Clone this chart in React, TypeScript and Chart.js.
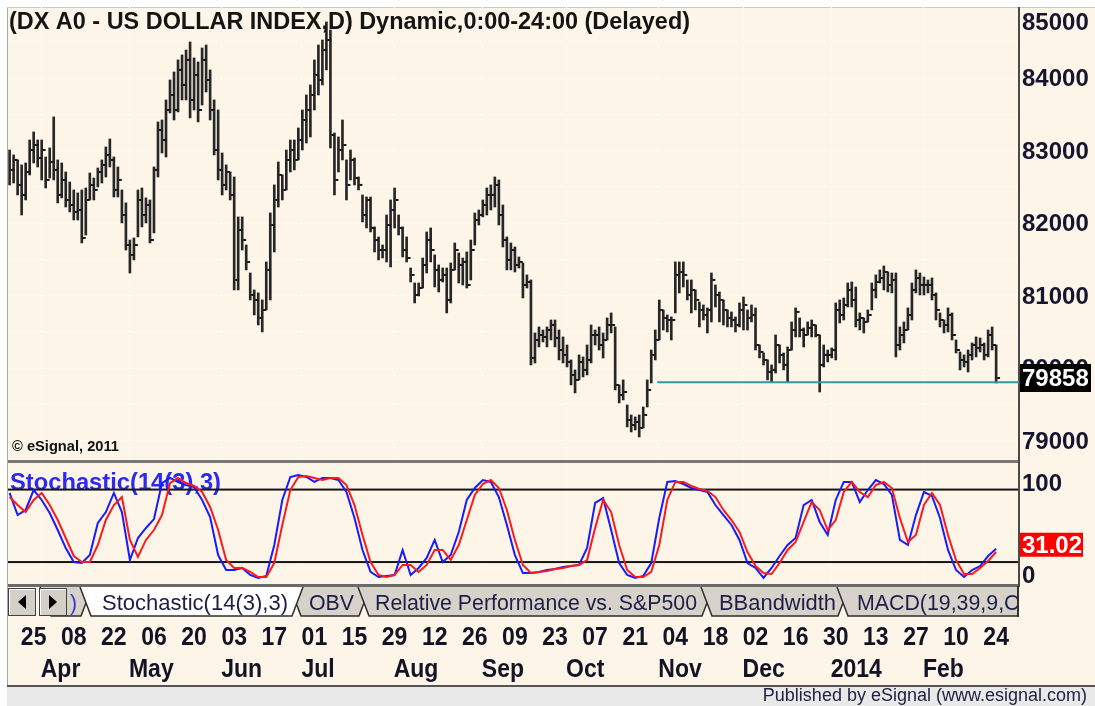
import React, { useEffect, useRef } from "react";
import { Chart, registerables } from "chart.js";

Chart.register(...registerables);

// ---------------- data ----------------
const highs = [
  83002, 82934, 82865, 82796, 82823, 83140, 83251, 83140, 83140, 82906,
  83030, 83458, 82865, 82823, 82699, 82561, 82451, 82410, 82451, 82478,
  82685, 82616, 82754, 82865, 83044, 83154, 82906, 82768, 82451, 82272,
  81761, 81789, 82451, 82478, 82341, 82313, 82768, 83389, 83416, 83692,
  83968, 84078, 84244, 84312, 84381, 84492, 84271, 84216, 84409, 84450,
  84106, 83692, 83554, 82961, 82796, 82699, 82630, 82079, 82079, 81692,
  81306, 81072, 81031, 80934, 81458, 82134, 82520, 82837, 82658, 83002,
  83140, 83140, 83306, 83554, 83761, 83899, 84244, 84450, 84519, 84768,
  84657, 83237, 83182, 83416, 82865, 83002, 82892, 82630, 82382, 82354,
  82354, 81941, 81803, 81692, 82106, 82313, 82478, 82106, 81941, 81803,
  81375, 81168, 81168, 81513, 81872, 81927, 81555, 81417, 81375, 81375,
  81444, 81720, 81582, 81513, 81596, 81761, 82134, 82175, 82313, 82478,
  82520, 82630, 82589, 82244, 81803, 81720, 81665, 81527, 81444, 81279,
  81210, 80479, 80562, 80520, 80562, 80658, 80658, 80520, 80424, 80313,
  80107, 79969, 80176, 80148, 80313, 80589, 80520, 80562, 80479, 80686,
  80755, 80562, 79762, 79831, 79486, 79348, 79321, 79348, 79458, 79831,
  80244, 80520, 80934, 80796, 80727, 80700, 81458, 81458, 81458, 81210,
  81210, 81072, 80906, 80865, 80824, 81306, 81141, 81044, 80934, 80796,
  80769, 80700, 80893, 80975, 80796, 80865, 80824, 80313, 80203, 80107,
  80038, 80451, 80313, 80203, 80286, 80631, 80824, 80686, 80548, 80631,
  80658, 80589, 80451, 80313, 80244, 80272, 80893, 80934, 80962, 81168,
  81182, 81113, 80755, 80686, 80796, 81168, 81279, 81348, 81403, 81320,
  81306, 81306, 80562, 80631, 80824, 81168, 81348, 81306, 81251, 81210,
  81237, 81031, 80755, 80658, 80824, 80755, 80382, 80217, 80176, 80244,
  80341, 80424, 80410, 80341, 80520, 80562, 80313,
];

const lows = [
  82520, 82547, 82382, 82106, 82313, 82658, 82823, 82768, 82589, 82478,
  82616, 82589, 82272, 82341, 82216, 82148, 82037, 82037, 81720, 81830,
  82313, 82313, 82492, 82547, 82630, 82768, 82354, 82354, 81996, 81623,
  81306, 81486, 81803, 81941, 81996, 81720, 81858, 82630, 82961, 82906,
  83513, 83416, 83527, 83692, 83692, 83444, 83554, 83389, 83623, 83802,
  83416, 82934, 82589, 82382, 82451, 82313, 81072, 81072, 81623, 81348,
  80934, 80727, 80589, 80493, 80796, 80934, 81596, 82216, 82313, 82451,
  82699, 82727, 82865, 83002, 83099, 83182, 83554, 83761, 83899, 84106,
  83030, 82382, 82699, 82865, 82313, 82589, 82520, 82451, 82010, 81927,
  81872, 81596, 81486, 81513, 81458, 81389, 81927, 81830, 81527, 81458,
  81182, 80893, 80989, 81099, 81306, 81458, 81113, 81044, 81182, 80755,
  80893, 81348, 81168, 81141, 81099, 81210, 81692, 81968, 82079, 82106,
  82175, 82216, 81968, 81665, 81348, 81348, 81320, 81375, 80962, 81099,
  80038, 80065, 80286, 80355, 80286, 80382, 80286, 80107, 80065, 80010,
  79762, 79652, 79831, 79872, 79900, 80065, 80313, 80244, 80134, 80382,
  80479, 79693, 79514, 79555, 79183, 79114, 79141, 79045, 79169, 79458,
  79789, 80107, 80382, 80520, 80493, 80382, 80755, 81031, 81113, 80934,
  80755, 80796, 80562, 80658, 80479, 80631, 80837, 80631, 80589, 80562,
  80562, 80493, 80562, 80520, 80520, 80631, 80244, 80134, 80038, 79831,
  79803, 79927, 80065, 79969, 79803, 80244, 80424, 80424, 80286, 80451,
  80424, 80424, 79665, 80010, 80079, 80134, 80107, 80617, 80658, 80837,
  80837, 80562, 80520, 80479, 80631, 80796, 80962, 81168, 81072, 81044,
  81031, 80148, 80244, 80341, 80520, 80658, 81031, 81003, 81003, 81031,
  80934, 80658, 80562, 80479, 80493, 80382, 80203, 79969, 80010, 79941,
  80107, 80148, 80217, 80107, 80148, 80244, 79789,
];

const closes = [
  82727, 82865, 82520, 82382, 82699, 83002, 83071, 82892, 83002, 82589,
  82837, 82727, 82382, 82589, 82313, 82244, 82148, 82175, 81789, 82313,
  82520, 82451, 82699, 82796, 82934, 82865, 82451, 82589, 82106, 81692,
  81555, 81692, 82313, 82106, 82244, 81761, 82727, 83278, 83140, 83554,
  83761, 83554, 84106, 83899, 84244, 83692, 84037, 83554, 84244, 83968,
  83554, 83002, 82727, 82520, 82699, 82382, 81210, 81899, 81761, 81458,
  81003, 80934, 80686, 80796, 81348, 81968, 82313, 82658, 82451, 82865,
  83002, 82865, 83140, 83416, 83554, 83761, 84037, 83968, 84381, 84519,
  83209, 82589, 83002, 83071, 82520, 82865, 82616, 82520, 82106, 82313,
  81927, 81761, 81623, 81623, 81968, 82175, 82313, 81927, 81623, 81513,
  81279, 81003, 81099, 81417, 81761, 81623, 81348, 81210, 81279, 80934,
  81348, 81623, 81417, 81458, 81141, 81623, 82037, 82106, 82244, 82382,
  82382, 82520, 82106, 81761, 81486, 81623, 81417, 81458, 81141, 81182,
  80134, 80382, 80451, 80424, 80520, 80589, 80410, 80244, 80176, 80079,
  79900, 79831, 80079, 79969, 80107, 80451, 80451, 80313, 80382, 80589,
  80589, 79762, 79624, 79665, 79279, 79210, 79252, 79169, 79348, 79693,
  80176, 80382, 80796, 80686, 80658, 80658, 81279, 81320, 81279, 81003,
  81072, 80934, 80796, 80727, 80796, 81210, 81003, 80934, 80796, 80686,
  80658, 80589, 80796, 80865, 80686, 80727, 80313, 80217, 80107, 79941,
  79969, 80313, 80176, 80038, 80244, 80520, 80769, 80520, 80451, 80548,
  80589, 80451, 80038, 80176, 80176, 80244, 80796, 80727, 80865, 81072,
  80934, 80658, 80686, 80631, 80727, 81072, 81182, 81237, 81320, 81141,
  81210, 80313, 80451, 80520, 80727, 81072, 81237, 81141, 81141, 81141,
  81003, 80796, 80658, 80589, 80727, 80451, 80244, 80107, 80079, 80176,
  80313, 80272, 80313, 80176, 80451, 80313, 79858,
];

// Stochastic(14(3),3): one value every STOCH_STEP bars
const STOCH_STEP = 2;
const stochK = [
  77.2, 58.9, 63.1, 79.6, 71.4, 60.6, 46.5, 31.6, 20.0, 19.2,
  25.8, 52.3, 61.4, 77.2, 61.4, 21.7, 39.9, 48.2, 55.6, 85.4,
  89.6, 86.3, 83.8, 82.1, 71.4, 57.3, 25.8, 13.4, 13.4, 15.1,
  9.3, 6.8, 8.5, 34.1, 71.4, 90.4, 92.1, 90.4, 86.3, 89.6,
  89.6, 87.9, 78.0, 56.5, 30.0, 11.8, 7.6, 8.5, 9.3, 30.0,
  9.3, 15.1, 23.4, 38.3, 20.0, 25.8, 44.9, 71.4, 81.3, 87.9,
  86.3, 73.8, 50.7, 25.8, 10.9, 10.9, 11.8, 13.4, 14.2, 15.9,
  16.7, 17.6, 31.6, 68.9, 73.0, 46.5, 19.2, 9.3, 6.8, 8.5,
  19.2, 56.5, 86.3, 87.1, 84.6, 81.3, 79.6, 78.0, 67.2, 58.9,
  50.7, 38.3, 19.2, 15.1, 6.8, 15.1, 25.0, 34.1, 39.9, 67.2,
  71.4, 53.2, 42.4, 71.4, 86.3, 86.3, 69.7, 79.6, 87.9, 84.6,
  75.5, 38.3, 34.1, 58.9, 78.0, 74.7, 56.5, 30.0, 13.4, 7.6,
  13.4, 16.7, 25.0, 31.02,
];
const stochD = [
  73.8, 67.2, 61.4, 71.4, 77.2, 67.2, 54.8, 39.9, 25.0, 20.0,
  20.0, 34.1, 54.8, 67.2, 73.8, 38.3, 24.2, 38.3, 46.5, 58.9,
  85.4, 89.6, 85.4, 83.0, 78.0, 65.6, 46.5, 21.7, 15.1, 15.1,
  11.8, 7.6, 7.6, 19.2, 50.7, 79.6, 90.4, 91.2, 89.6, 87.9,
  89.6, 89.6, 83.8, 67.2, 42.4, 20.0, 9.3, 7.6, 9.3, 17.6,
  17.6, 11.8, 17.6, 30.0, 30.0, 21.7, 34.1, 54.8, 75.5, 84.6,
  87.9, 81.3, 63.1, 38.3, 17.6, 10.9, 11.8, 12.6, 14.2, 15.1,
  16.7, 17.6, 21.7, 48.2, 71.4, 61.4, 34.1, 13.4, 7.6, 7.6,
  11.8, 34.1, 71.4, 86.3, 86.3, 83.0, 80.5, 78.8, 73.8, 63.1,
  54.8, 44.9, 28.3, 16.7, 10.9, 10.1, 19.2, 30.0, 36.6, 53.2,
  69.7, 63.1, 46.5, 54.8, 78.0, 86.3, 78.0, 73.8, 83.8, 86.3,
  81.3, 56.5, 36.6, 42.4, 67.2, 77.2, 67.2, 42.4, 21.7, 10.1,
  10.1, 15.1, 20.9, 28.3,
];

const dayTickIdx = [6, 16, 26, 36, 46, 56, 66, 76, 86, 96, 106, 116, 126, 136, 146, 156, 166, 176, 186, 196, 206, 216, 226, 236, 246];
const dayTickLabels = ["25", "08", "22", "06", "20", "03", "17", "01", "15", "29", "12", "26", "09", "23", "07", "21", "04", "18", "02", "16", "30", "13", "27", "10", "24"];
const monthStartIdx = [11, 33, 56, 76, 99, 121, 142, 165, 186, 208, 231];
const monthLabels = ["Apr", "May", "Jun", "Jul", "Aug", "Sep", "Oct", "Nov", "Dec", "2014", "Feb"];
const priceTicks = [85000, 84000, 83000, 82000, 81000, 80000, 79000];
const priceGridLevels = [79000, 79500, 80000, 80500, 81000, 81500, 82000, 82500, 83000, 83500, 84000, 84500];
const stochLevels = [80, 20];
const stochTicks = [100, 0];
const supportLevel = 79800;
const supportFromIdx = 161.5;

const titleText = "(DX A0 - US DOLLAR INDEX,D) Dynamic,0:00-24:00 (Delayed)";
const stochTitle = "Stochastic(14(3),3)";
const copyrightText = "\u00A9 eSignal, 2011";
const footerText = "Published by eSignal (www.esignal.com)";
const tabLabels = [")", "Stochastic(14(3),3)", "OBV", "Relative Performance vs. S&P500", "BBandwidth", "MACD(19,39,9,C"];

// ---------------- layout / style ----------------
const W = 1095;
const H = 706;
const PLOT_L = 8;
const PLOT_R = 1019;
const PRICE_T = 7;
const PRICE_B = 460;
const ST_TOP = 463;
const ST_BOT = 585;
const B_TOP = 462;
const B_H = 124;
const X_MIN = -0.4;
const X_MAX = 251.7;
const P_MIN = 78727;
const P_MAX = 84974;
const S_MIN = 1;
const S_MAX = 102;
const FOOT_LINE = 685;
const TAB_TOP = 587;
const TAB_BOT = 616;
const TAB_SLANT = 11;
const tabEdges = [[40, 92], [80, 303], [290, 370], [358, 713], [701, 849], [837, 1040]];
const tabTextX = [70, 102, 309, 375, 719, 857];
const tabTextW = [0, 186, 45, 322, 117, 0];
const ACTIVE_TAB = 1;

const CREAM = "#FCF5E8";
const AXIS_TXT = "#151530";
const SANS = '"Liberation Sans", Arial, Helvetica, sans-serif';

function drawText(
  ctx: CanvasRenderingContext2D,
  s: string,
  x: number,
  y: number,
  o: { size: number; bold?: boolean; color: string; align?: string; sx?: number; width?: number }
) {
  ctx.save();
  ctx.font = `${o.bold ? "bold " : ""}${o.size}px ${SANS}`;
  ctx.fillStyle = o.color;
  ctx.textBaseline = "alphabetic";
  ctx.textAlign = "left";
  const m = ctx.measureText(s).width;
  let sx = o.sx ?? 1;
  if (o.width) sx = o.width / m;
  const w = m * sx;
  let x0 = x;
  if (o.align === "center") x0 = x - w / 2;
  else if (o.align === "right") x0 = x - w;
  ctx.translate(x0, y);
  ctx.scale(sx, 1);
  ctx.fillText(s, 0, 0);
  ctx.restore();
}

function hLine(ctx: CanvasRenderingContext2D, x1: number, x2: number, y: number) {
  ctx.beginPath();
  ctx.moveTo(x1, y);
  ctx.lineTo(x2, y);
  ctx.stroke();
}
function vLine(ctx: CanvasRenderingContext2D, x: number, y1: number, y2: number) {
  ctx.beginPath();
  ctx.moveTo(x, y1);
  ctx.lineTo(x, y2);
  ctx.stroke();
}

const pricePanePlugin = {
  id: "pricePane",
  beforeDraw(chart: any) {
    const { ctx, chartArea: ca, scales } = chart;
    const xs = scales.x;
    const ys = scales.y;
    ctx.save();
    ctx.fillStyle = "#ffffff";
    ctx.fillRect(0, 0, W, H);
    ctx.fillStyle = CREAM;
    ctx.fillRect(7, 7, W - 7, FOOT_LINE - 7);
    // footer band
    ctx.fillStyle = "#e9e9e9";
    ctx.fillRect(7, FOOT_LINE + 2, W - 7, H - FOOT_LINE - 2);
    ctx.fillStyle = "#555555";
    ctx.fillRect(7, FOOT_LINE, W - 7, 2);
    // frame
    ctx.fillStyle = "#a8a8a8";
    ctx.fillRect(7, 7, 1, FOOT_LINE - 7);
    ctx.fillStyle = "#c8c8c8";
    ctx.fillRect(7, 7, W - 7, 1);

    // dotted grid
    ctx.strokeStyle = "#ffffff";
    ctx.lineWidth = 1;
    ctx.setLineDash([1, 3]);
    priceGridLevels.forEach((v) => {
      const y = Math.round(ys.getPixelForValue(v)) + 0.5;
      hLine(ctx, ca.left, ca.right, y);
    });
    monthStartIdx.forEach((m) => {
      const x = Math.round(xs.getPixelForValue(m) - 13) + 0.5;
      vLine(ctx, x, ca.top, ca.bottom);
      vLine(ctx, x, ST_TOP, ST_BOT);
    });
    ctx.setLineDash([]);

    // pane separators and axis lines
    ctx.fillStyle = "#787878";
    ctx.fillRect(PLOT_L, PRICE_B, PLOT_R - PLOT_L, 3);
    ctx.fillStyle = "#6a6a6a";
    ctx.fillRect(PLOT_L, 584, PLOT_R - PLOT_L, 3);
    ctx.fillStyle = "#4a4a4a";
    ctx.fillRect(PLOT_R - 1, PRICE_T, 2, PRICE_B - PRICE_T + 3);
    ctx.fillRect(PLOT_R - 1, ST_TOP, 2, ST_BOT - ST_TOP + 2);

    // tabs
    ctx.save();
    ctx.beginPath();
    ctx.rect(PLOT_L, TAB_TOP - 1, PLOT_R - 1 - PLOT_L, TAB_BOT - TAB_TOP + 3);
    ctx.clip();
    const order = [0, 2, 3, 4, 5, ACTIVE_TAB];
    order.forEach((k) => {
      const [l, r] = tabEdges[k];
      const active = k === ACTIVE_TAB;
      ctx.beginPath();
      ctx.moveTo(l, TAB_TOP);
      ctx.lineTo(l + TAB_SLANT, TAB_BOT);
      ctx.lineTo(r - TAB_SLANT, TAB_BOT);
      ctx.lineTo(r, TAB_TOP);
      ctx.closePath();
      ctx.fillStyle = active ? "#ffffff" : "#d6d2ca";
      ctx.fill();
      ctx.beginPath();
      ctx.moveTo(l, TAB_TOP);
      ctx.lineTo(l + TAB_SLANT, TAB_BOT);
      ctx.lineTo(r - TAB_SLANT, TAB_BOT);
      ctx.lineTo(r, TAB_TOP);
      ctx.strokeStyle = "#2e2e2e";
      ctx.lineWidth = 1.5;
      ctx.stroke();
      ctx.save();
      ctx.beginPath();
      ctx.rect(l, TAB_TOP, Math.min(r, PLOT_R - 2) - l, TAB_BOT - TAB_TOP);
      ctx.clip();
      drawText(ctx, tabLabels[k], tabTextX[k], 610, {
        size: 22,
        color: k === 0 ? "#3a3ac8" : "#1d1d48",
        width: tabTextW[k] || undefined,
        sx: 0.97,
      });
      ctx.restore();
    });
    ctx.restore();
    ctx.fillStyle = "#333333";
    ctx.fillRect(PLOT_R - 2, TAB_TOP - 1, 2, TAB_BOT - TAB_TOP + 2);

    // scroll buttons
    const btn = (bx: number, dir: number) => {
      ctx.fillStyle = "#d4d0c8";
      ctx.fillRect(bx, 588, 28, 28);
      ctx.strokeStyle = "#ffffff";
      ctx.lineWidth = 1;
      hLine(ctx, bx + 1, bx + 27, 589.5);
      vLine(ctx, bx + 1.5, 589, 615);
      ctx.strokeStyle = "#404040";
      ctx.strokeRect(bx + 0.5, 588.5, 27, 27);
      ctx.fillStyle = "#000000";
      const cx = bx + 14;
      ctx.beginPath();
      ctx.moveTo(cx + dir * -4, 602);
      ctx.lineTo(cx + dir * 4, 595);
      ctx.lineTo(cx + dir * 4, 609);
      ctx.closePath();
      ctx.fill();
    };
    btn(8, 1);
    btn(39, -1);

    // date axis
    dayTickIdx.forEach((idx, j) => {
      drawText(ctx, dayTickLabels[j], xs.getPixelForValue(idx), 645, {
        size: 25,
        bold: true,
        color: "#131326",
        align: "center",
        sx: 0.92,
      });
    });
    monthStartIdx.forEach((idx, j) => {
      drawText(ctx, monthLabels[j], xs.getPixelForValue(idx) - 13, 677, {
        size: 25,
        bold: true,
        color: "#131326",
        sx: 0.92,
      });
    });
    drawText(ctx, footerText, 1087, 701, { size: 18, color: "#222244", align: "right" });
    ctx.restore();
  },
  afterDatasetsDraw(chart: any) {
    const { ctx } = chart;
    drawText(ctx, titleText, 9, 29, { size: 24, bold: true, color: "#141414", width: 681 });
    drawText(ctx, copyrightText, 12, 451, { size: 15, bold: true, color: "#111111", width: 107 });
  },
  afterDraw(chart: any) {
    const { ctx, scales } = chart;
    const ys = scales.y;
    priceTicks.forEach((v) => {
      const y = ys.getPixelForValue(v);
      const base = Math.min(Math.max(y + 8.5, 30), 457);
      drawText(ctx, String(v), 1022, base, { size: 24, bold: true, color: AXIS_TXT });
    });
    const last = closes[closes.length - 1];
    const ly = ys.getPixelForValue(last);
    ctx.fillStyle = "#000000";
    ctx.fillRect(1020, ly - 14, 71, 28);
    drawText(ctx, String(last), 1022, ly + 8.5, { size: 24, bold: true, color: "#ffffff" });
  },
};

const stochPanePlugin = {
  id: "stochPane",
  beforeDatasetsDraw(chart: any) {
    const { ctx, chartArea: ca, scales } = chart;
    drawText(ctx, stochTitle, 10, 490 - B_TOP, { size: 24, bold: true, color: "#2a2af0", width: 211 });
    ctx.fillStyle = "#151515";
    stochLevels.forEach((v) => {
      const py = scales.y.getPixelForValue(v);
      ctx.fillRect(ca.left, py - 1, ca.right - ca.left - 1, 2);
    });
  },
  afterDraw(chart: any) {
    const { ctx, scales } = chart;
    const ys = scales.y;
    stochTicks.forEach((v) => {
      const py = ys.getPixelForValue(v);
      const base = Math.min(Math.max(py + 8.5, 491 - B_TOP), 583 - B_TOP);
      drawText(ctx, String(v), 1022, base, { size: 24, bold: true, color: AXIS_TXT });
    });
    const lastK = stochK[stochK.length - 1];
    const py = ys.getPixelForValue(lastK);
    ctx.fillStyle = "#ff0000";
    ctx.fillRect(1020, py - 16, 63, 24);
    drawText(ctx, lastK.toFixed(2), 1022, py + 4.5, { size: 24, bold: true, color: "#ffffff" });
  },
};

export default function App() {
  const aRef = useRef<HTMLCanvasElement>(null);
  const bRef = useRef<HTMLCanvasElement>(null);

  useEffect(() => {
    const barData = highs.map((h, i) => ({ x: i, y: [lows[i], h] }));
    const closeData = closes.map((c, i) => ({ x: i + 0.6, y: c }));
    const supportData = [
      { x: supportFromIdx, y: supportLevel },
      { x: X_MAX, y: supportLevel },
    ];

    const chartA = new Chart(aRef.current as HTMLCanvasElement, {
      type: "bar",
      data: {
        datasets: [
          {
            type: "line",
            data: supportData,
            borderColor: "#2f9b9b",
            borderWidth: 2,
            pointRadius: 0,
            order: 0,
          } as any,
          {
            type: "scatter",
            data: closeData,
            pointStyle: "line",
            pointRadius: 1.5,
            pointBorderWidth: 2,
            pointBorderColor: "#161616",
            borderColor: "#161616",
            order: 1,
          } as any,
          {
            type: "bar",
            data: barData,
            backgroundColor: "#262626",
            borderWidth: 0,
            barThickness: 2,
            order: 2,
          } as any,
        ],
      },
      options: {
        responsive: false,
        animation: false,
        devicePixelRatio: 1,
        events: [],
        layout: {
          autoPadding: false,
          padding: { left: PLOT_L, right: W - PLOT_R, top: PRICE_T, bottom: H - PRICE_B },
        },
        plugins: { legend: { display: false }, tooltip: { enabled: false } },
        scales: {
          x: { type: "linear", min: X_MIN, max: X_MAX, display: false, offset: false },
          y: { type: "linear", min: P_MIN, max: P_MAX, display: false },
        },
      } as any,
      plugins: [pricePanePlugin as any],
    });

    const chartB = new Chart(bRef.current as HTMLCanvasElement, {
      type: "line",
      data: {
        datasets: [
          {
            data: stochD.map((v, k) => ({ x: k * STOCH_STEP, y: v })),
            borderColor: "#ff1a1a",
            borderWidth: 2,
            pointRadius: 0,
            tension: 0,
          },
          {
            data: stochK.map((v, k) => ({ x: k * STOCH_STEP, y: v })),
            borderColor: "#1a1aff",
            borderWidth: 2,
            pointRadius: 0,
            tension: 0,
          },
        ],
      },
      options: {
        responsive: false,
        animation: false,
        devicePixelRatio: 1,
        events: [],
        layout: {
          autoPadding: false,
          padding: { left: PLOT_L, right: W - PLOT_R, top: ST_TOP - B_TOP, bottom: B_TOP + B_H - ST_BOT },
        },
        plugins: { legend: { display: false }, tooltip: { enabled: false } },
        scales: {
          x: { type: "linear", min: X_MIN, max: X_MAX, display: false },
          y: { type: "linear", min: S_MIN, max: S_MAX, display: false },
        },
      } as any,
      plugins: [stochPanePlugin as any],
    });

    return () => {
      chartA.destroy();
      chartB.destroy();
    };
  }, []);

  return (
    <div style={{ position: "absolute", left: 0, top: 0, width: W, height: H, overflow: "hidden", background: "#ffffff" }}>
      <canvas ref={aRef} width={W} height={H} style={{ position: "absolute", left: 0, top: 0 }} />
      <canvas ref={bRef} width={W} height={B_H} style={{ position: "absolute", left: 0, top: B_TOP }} />
    </div>
  );
}
